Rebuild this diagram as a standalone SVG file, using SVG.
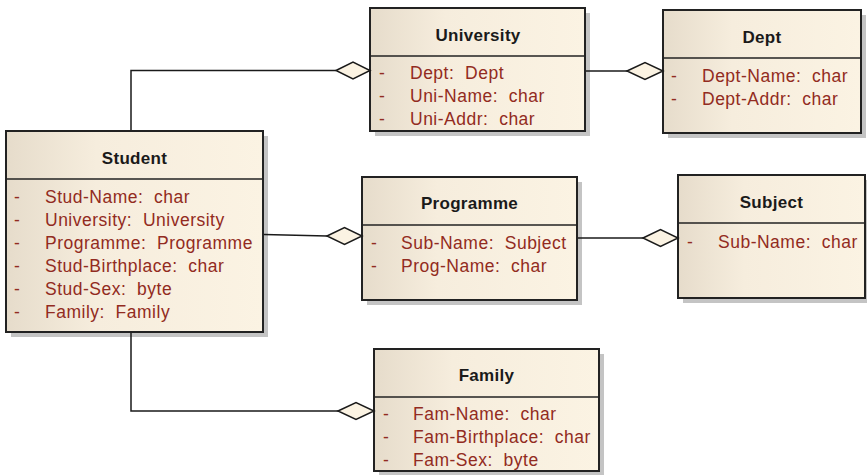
<svg xmlns="http://www.w3.org/2000/svg" width="867" height="475" viewBox="0 0 867 475">
  <defs>
    <linearGradient id="fill" x1="0" y1="0" x2="1" y2="0">
      <stop offset="0" stop-color="#E6DCCB"/>
      <stop offset="0.35" stop-color="#F6EDDD"/>
      <stop offset="1" stop-color="#FBF3E3"/>
    </linearGradient>
  </defs>
  <style>
    .shadow { fill: #C4C4C4; }
    .box { fill: url(#fill); stroke: #222; stroke-width: 2; }
    .div { stroke: #222; stroke-width: 1.5; }
    .title { font-family: "Liberation Sans", Arial, sans-serif; font-weight: bold; font-size: 17px; fill: #1a1a1a; text-anchor: middle; letter-spacing: 0.3px; }
    .attr { font-family: "Liberation Sans", Arial, sans-serif; font-size: 17.5px; fill: #922B21; letter-spacing: 0.5px; white-space: pre; }
    .conn { fill: none; stroke: #1a1a1a; stroke-width: 1.5; }
    .dia { fill: #FBF3E3; stroke: #1a1a1a; stroke-width: 1.5; }
  </style>

  <g id="student">
    <rect class="shadow" x="11" y="136" width="257" height="201"/>
    <rect class="box" x="6" y="131" width="257" height="201"/>
    <line class="div" x1="6" y1="179" x2="263" y2="179"/>
    <text class="title" x="134.5" y="164">Student</text>
    <text class="attr" x="14" y="203">-</text><text class="attr" x="45" y="203" xml:space="preserve">Stud-Name:  char</text>
    <text class="attr" x="14" y="226">-</text><text class="attr" x="45" y="226" xml:space="preserve">University:  University</text>
    <text class="attr" x="14" y="249">-</text><text class="attr" x="45" y="249" xml:space="preserve">Programme:  Programme</text>
    <text class="attr" x="14" y="272">-</text><text class="attr" x="45" y="272" xml:space="preserve">Stud-Birthplace:  char</text>
    <text class="attr" x="14" y="295">-</text><text class="attr" x="45" y="295" xml:space="preserve">Stud-Sex:  byte</text>
    <text class="attr" x="14" y="318">-</text><text class="attr" x="45" y="318" xml:space="preserve">Family:  Family</text>
  </g>

  <g id="university">
    <rect class="shadow" x="375" y="13" width="215" height="123"/>
    <rect class="box" x="370" y="8" width="215" height="123"/>
    <line class="div" x1="370" y1="56" x2="585" y2="56"/>
    <text class="title" x="478" y="41">University</text>
    <text class="attr" x="379" y="79">-</text><text class="attr" x="410" y="79" xml:space="preserve">Dept:  Dept</text>
    <text class="attr" x="379" y="102">-</text><text class="attr" x="410" y="102" xml:space="preserve">Uni-Name:  char</text>
    <text class="attr" x="379" y="125">-</text><text class="attr" x="410" y="125" xml:space="preserve">Uni-Addr:  char</text>
  </g>

  <g id="dept">
    <rect class="shadow" x="668" y="15" width="198" height="123"/>
    <rect class="box" x="663" y="10" width="198" height="123"/>
    <line class="div" x1="663" y1="58" x2="861" y2="58"/>
    <text class="title" x="762" y="43">Dept</text>
    <text class="attr" x="671" y="82">-</text><text class="attr" x="702" y="82" xml:space="preserve">Dept-Name:  char</text>
    <text class="attr" x="671" y="105">-</text><text class="attr" x="702" y="105" xml:space="preserve">Dept-Addr:  char</text>
  </g>

  <g id="programme">
    <rect class="shadow" x="367" y="182" width="215" height="123"/>
    <rect class="box" x="362" y="177" width="215" height="123"/>
    <line class="div" x1="362" y1="225" x2="577" y2="225"/>
    <text class="title" x="469.5" y="209">Programme</text>
    <text class="attr" x="371" y="249">-</text><text class="attr" x="401" y="249" xml:space="preserve">Sub-Name:  Subject</text>
    <text class="attr" x="371" y="272">-</text><text class="attr" x="401" y="272" xml:space="preserve">Prog-Name:  char</text>
  </g>

  <g id="subject">
    <rect class="shadow" x="683" y="180" width="184" height="123"/>
    <rect class="box" x="678" y="175" width="187" height="123"/>
    <line class="div" x1="678" y1="223" x2="865" y2="223"/>
    <text class="title" x="771.5" y="208">Subject</text>
    <text class="attr" x="687" y="248">-</text><text class="attr" x="718" y="248" xml:space="preserve">Sub-Name:  char</text>
  </g>

  <g id="family">
    <rect class="shadow" x="379" y="354" width="225" height="122"/>
    <rect class="box" x="374" y="349" width="225" height="122"/>
    <line class="div" x1="374" y1="397" x2="599" y2="397"/>
    <text class="title" x="486.5" y="381">Family</text>
    <text class="attr" x="383" y="420">-</text><text class="attr" x="413" y="420" xml:space="preserve">Fam-Name:  char</text>
    <text class="attr" x="383" y="443">-</text><text class="attr" x="413" y="443" xml:space="preserve">Fam-Birthplace:  char</text>
    <text class="attr" x="383" y="466">-</text><text class="attr" x="413" y="466" xml:space="preserve">Fam-Sex:  byte</text>
  </g>

  <!-- aggregation connectors, drawn over the box shadows -->
  <g id="connectors">
    <polyline class="conn" points="131,130 131,70.5 336,70.5"/>
    <polygon class="dia" points="336,70.5 353,62 370,70.5 353,79"/>
    <line class="conn" x1="586" y1="71" x2="627" y2="71"/>
    <polygon class="dia" points="627,71 645,62.5 663,71 645,79.5"/>
    <line class="conn" x1="264" y1="234.5" x2="327" y2="236"/>
    <polygon class="dia" points="327,236 344.5,227.5 362,236 344.5,244.5"/>
    <line class="conn" x1="578" y1="238" x2="643" y2="238"/>
    <polygon class="dia" points="643,238 660.5,229.5 678,238 660.5,246.5"/>
    <polyline class="conn" points="131,333 131,411 338,411"/>
    <polygon class="dia" points="338,411 356,402.5 374,411 356,419.5"/>
  </g>
</svg>
